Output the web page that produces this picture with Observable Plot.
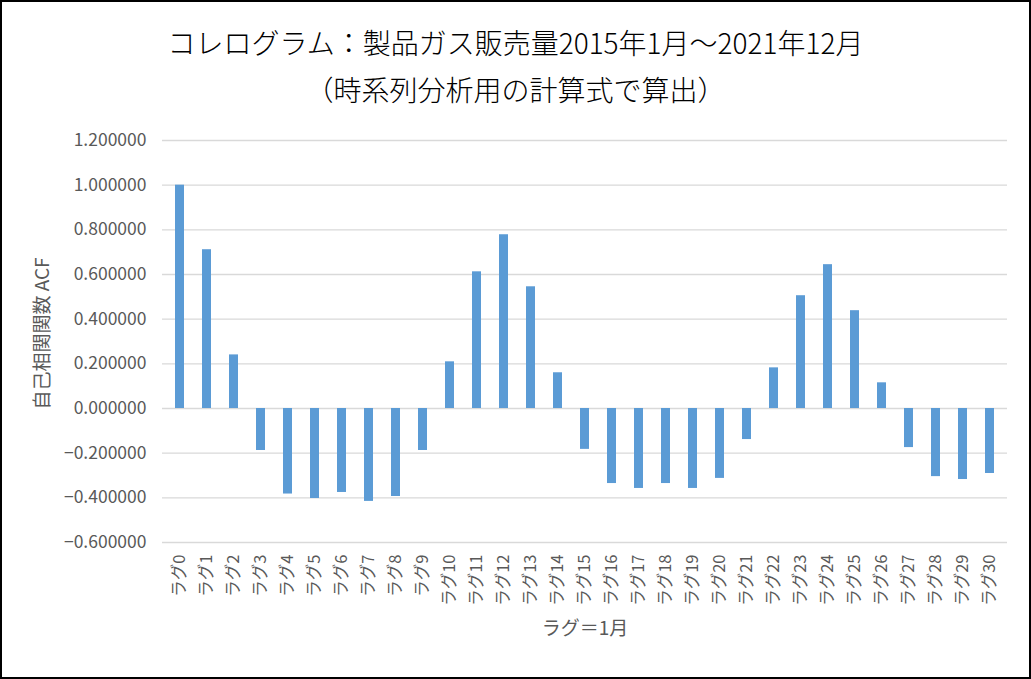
<!DOCTYPE html>
<html>
<head>
<meta charset="utf-8">
<script src="https://cdn.jsdelivr.net/npm/d3@7"></script>
<script src="https://cdn.jsdelivr.net/npm/@observablehq/plot@0.6"></script>
<style>
  html, body { margin: 0; padding: 0; background: #fff; }
  #wrap { position: relative; width: 1031px; height: 679px; overflow: hidden; background: #fff; }
  #title { height: 120px; box-sizing: border-box; padding-top: 19px; text-align: center;
    font-family: "Noto Sans CJK JP", sans-serif; font-size: 28px; font-weight: 300; line-height: 47px; color: #000; }
  #frame { position: absolute; left: 0; top: 0; width: 1031px; height: 679px; box-sizing: border-box;
    border: 2px solid #000; pointer-events: none; }
</style>
</head>
<body>
<div id="wrap">
  <div id="title">コレログラム：製品ガス販売量2015年1月～2021年12月<br>（時系列分析用の計算式で算出）</div>
  <div id="chart"></div>
  <div id="frame"></div>
</div>
<script>
const lags = ["ラグ0","ラグ1","ラグ2","ラグ3","ラグ4","ラグ5","ラグ6","ラグ7","ラグ8","ラグ9","ラグ10",
  "ラグ11","ラグ12","ラグ13","ラグ14","ラグ15","ラグ16","ラグ17","ラグ18","ラグ19","ラグ20",
  "ラグ21","ラグ22","ラグ23","ラグ24","ラグ25","ラグ26","ラグ27","ラグ28","ラグ29","ラグ30"];
const acf = [1.000000, 0.711, 0.240, -0.188, -0.383, -0.403, -0.376, -0.416, -0.394, -0.188, 0.209,
  0.612, 0.778, 0.545, 0.160, -0.183, -0.336, -0.358, -0.336, -0.358, -0.313,
  -0.139, 0.182, 0.505, 0.644, 0.438, 0.115, -0.175, -0.305, -0.318, -0.291];
const yTicks = [-0.6, -0.4, -0.2, 0, 0.2, 0.4, 0.6, 0.8, 1.0, 1.2];
const yLabel = "自己相関関数 ACF";
const xLabel = "ラグ＝1月";

const data = lags.map((l, i) => ({lag: l, value: acf[i]}));

const chart = Plot.plot({
  width: 1031,
  height: 559,
  marginTop: 20,
  marginBottom: 137,
  marginLeft: 162,
  marginRight: 24,
  style: {fontFamily: "'Noto Sans CJK JP', 'Noto Sans', sans-serif", color: "#595959", background: "#fff"},
  x: {domain: lags, paddingInner: 0.67, paddingOuter: 0.335},
  y: {domain: [-0.6, 1.2]},
  marks: [
    Plot.ruleY(yTicks, {stroke: "#d9d9d9", strokeWidth: 1.4}),
    Plot.barY(data, {x: "lag", y: "value", fill: "#5b9bd5"}),
    Plot.axisY({ticks: yTicks, tickFormat: d3.format(".6f"), tickSize: 0, tickPadding: 16,
      fontSize: 17.5, fill: "#595959", label: null}),
    Plot.axisX({tickRotate: -90, tickSize: 0, tickPadding: 12, fontSize: 16.5, fill: "#595959", label: null}),
    Plot.text([yLabel], {frameAnchor: "left", dx: -120, dy: -8, rotate: -90, fontSize: 19, fill: "#595959", textAnchor: "middle"}),
    Plot.text([xLabel], {frameAnchor: "bottom", dy: 92, fontSize: 19, fill: "#595959"})
  ]
});
document.getElementById("chart").appendChild(chart);
</script>
</body>
</html>
